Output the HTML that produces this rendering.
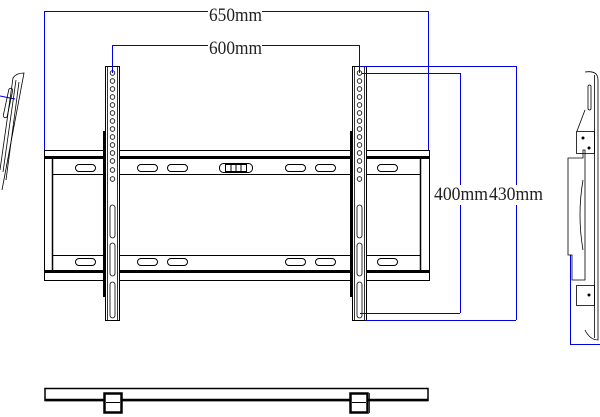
<!DOCTYPE html>
<html><head><style>html,body{margin:0;padding:0;background:#fff;}svg{display:block}</style></head>
<body>
<svg width="600" height="417" viewBox="0 0 600 417" xmlns="http://www.w3.org/2000/svg" font-family="Liberation Serif, serif">
<g fill="none" stroke="#000" stroke-width="1">
<rect x="44.5" y="150.5" width="385" height="130" fill="#fff"/>
<line x1="44" y1="157.5" x2="430" y2="157.5" stroke-width="3"/>
<line x1="44" y1="271.5" x2="430" y2="271.5" stroke-width="3"/>
<line x1="52" y1="174.5" x2="421" y2="174.5"/>
<line x1="52" y1="255.5" x2="421" y2="255.5"/>
<line x1="52.5" y1="158" x2="52.5" y2="271" stroke-width="1.5"/>
<line x1="420.5" y1="158" x2="420.5" y2="271" stroke-width="1.5"/>
<g>
<rect x="75.5" y="164.5" width="20" height="7" rx="3.5"/>
<rect x="137.5" y="164.5" width="20" height="7" rx="3.5"/>
<rect x="167.5" y="164.5" width="20" height="7" rx="3.5"/>
<rect x="285.5" y="164.5" width="20" height="7" rx="3.5"/>
<rect x="315.5" y="164.5" width="20" height="7" rx="3.5"/>
<rect x="377.5" y="164.5" width="20" height="7" rx="3.5"/>
<rect x="75.5" y="258.5" width="20" height="7" rx="3.5"/>
<rect x="137.5" y="258.5" width="20" height="7" rx="3.5"/>
<rect x="167.5" y="258.5" width="20" height="7" rx="3.5"/>
<rect x="285.5" y="258.5" width="20" height="7" rx="3.5"/>
<rect x="315.5" y="258.5" width="20" height="7" rx="3.5"/>
<rect x="377.5" y="258.5" width="20" height="7" rx="3.5"/>
<rect x="219.5" y="163.5" width="33" height="9" rx="4"/>
<rect x="225.5" y="164.5" width="21" height="7"/>
<line x1="231" y1="164" x2="231" y2="172"/><line x1="236" y1="164" x2="236" y2="172"/><line x1="241" y1="164" x2="241" y2="172"/>
</g>
</g>
<g fill="#000">
<rect x="103" y="131" width="3" height="166"/><rect x="117" y="131" width="3" height="166"/>
<rect x="350" y="131" width="3" height="166"/><rect x="364" y="131" width="3" height="166"/>
</g>
<g fill="#fff" stroke="#000">
<rect x="105.5" y="66.5" width="14" height="254"/>
<rect x="352.5" y="66.5" width="14" height="254"/>
</g>
<g fill="none" stroke="#000" stroke-width="0.8">
<line x1="107.5" y1="67" x2="107.5" y2="320"/><line x1="117.5" y1="67" x2="117.5" y2="320"/>
<line x1="354.5" y1="67" x2="354.5" y2="320"/><line x1="364.5" y1="67" x2="364.5" y2="320"/>
<g id="holes">
<circle cx="112.5" cy="73" r="2.3"/><circle cx="112.5" cy="81" r="2.3"/><circle cx="112.5" cy="89" r="2.3"/><circle cx="112.5" cy="97" r="2.3"/><circle cx="112.5" cy="105" r="2.3"/><circle cx="112.5" cy="113" r="2.3"/><circle cx="112.5" cy="121" r="2.3"/><circle cx="112.5" cy="129" r="2.3"/><circle cx="112.5" cy="137" r="2.3"/><circle cx="112.5" cy="145" r="2.3"/><circle cx="112.5" cy="153" r="2.3"/><circle cx="112.5" cy="161" r="2.3"/><circle cx="112.5" cy="170" r="2.3"/><circle cx="112.5" cy="179" r="2.3"/>
<rect x="110" y="205" width="5" height="33" rx="2.5"/>
<rect x="110" y="243" width="5" height="33" rx="2.5"/>
<rect x="110" y="282" width="5" height="36" rx="2.5"/>
</g>
<use href="#holes" x="247"/>
</g>
<g stroke="#0000e0" stroke-width="1" fill="none">
<line x1="44.5" y1="11" x2="44.5" y2="150"/>
<line x1="44" y1="11.5" x2="208" y2="11.5"/><line x1="262" y1="11.5" x2="428" y2="11.5"/>
<line x1="428.5" y1="11" x2="428.5" y2="150"/>
<line x1="112.5" y1="45" x2="112.5" y2="73"/>
<line x1="112" y1="45.5" x2="208" y2="45.5"/><line x1="262" y1="45.5" x2="359" y2="45.5"/>
<line x1="359.5" y1="45" x2="359.5" y2="73"/>
<line x1="360" y1="66.5" x2="516" y2="66.5"/>
<line x1="516.5" y1="66" x2="516.5" y2="185"/><line x1="516.5" y1="205" x2="516.5" y2="320"/>
<line x1="365" y1="320.5" x2="516" y2="320.5"/>
<line x1="362" y1="73.5" x2="460" y2="73.5"/>
<line x1="460.5" y1="73" x2="460.5" y2="185"/><line x1="460.5" y1="205" x2="460.5" y2="313"/>
<line x1="360" y1="313.5" x2="460" y2="313.5"/>
<line x1="0" y1="96" x2="15" y2="99"/>
<line x1="570.5" y1="255" x2="570.5" y2="345"/><line x1="570" y1="344.5" x2="600" y2="344.5"/>
</g>
<g font-size="19" fill="#222" lengthAdjust="spacingAndGlyphs">
<text x="209" y="21" textLength="53" lengthAdjust="spacingAndGlyphs">650mm</text>
<text x="209" y="54" textLength="53" lengthAdjust="spacingAndGlyphs">600mm</text>
<text x="434" y="200" textLength="54" lengthAdjust="spacingAndGlyphs">400mm</text>
<text x="489" y="200" textLength="54" lengthAdjust="spacingAndGlyphs">430mm</text>
</g>
<g fill="none" stroke="#000" stroke-width="0.8">
<path d="M0,170 L13,78 Q16,73 24,73 L2,190"/>
<path d="M3,172 L16,80"/><path d="M6,180 L19,82"/>
<rect x="6" y="88" width="4" height="30" rx="2" transform="rotate(12 8 103)"/>
</g>
<g fill="none" stroke="#000" stroke-width="0.8">
<path d="M585,72 Q598,70 598,80 L598,340 Q590,340 585,330"/>
<line x1="594.5" y1="75" x2="594.5" y2="338"/>
<rect x="588" y="85" width="3" height="25" rx="1.5"/>
<rect x="576.5" y="131.5" width="18" height="22"/>
<rect x="576.5" y="285.5" width="18" height="20"/>
<path d="M572,158 L583,158 L583,150 L585,150 L585,280 L572,280 L572,255 L568,255 L568,158Z"/>
<path d="M583,180 Q577,215 583,250"/>
<line x1="585" y1="110" x2="577" y2="131"/>
</g>
<g fill="#000"><circle cx="583" cy="138" r="1.5"/><circle cx="589" cy="148" r="1.5"/><circle cx="589" cy="295" r="1.5"/></g>
<g fill="none" stroke="#000">
<rect x="45" y="388.5" width="383" height="12" stroke-width="1.5"/>
<line x1="45" y1="400" x2="428" y2="400" stroke-width="2.5"/>
<rect x="104.5" y="393.5" width="17" height="19" fill="#fff" stroke-width="2.5"/>
<line x1="106" y1="402.5" x2="120" y2="402.5"/>
<rect x="350.5" y="393.5" width="17" height="19" fill="#fff" stroke-width="2.5"/>
<line x1="352" y1="402.5" x2="366" y2="402.5"/>
<line x1="369.5" y1="393" x2="369.5" y2="413" stroke-width="0.8"/>
</g>
</svg>
</body></html>
